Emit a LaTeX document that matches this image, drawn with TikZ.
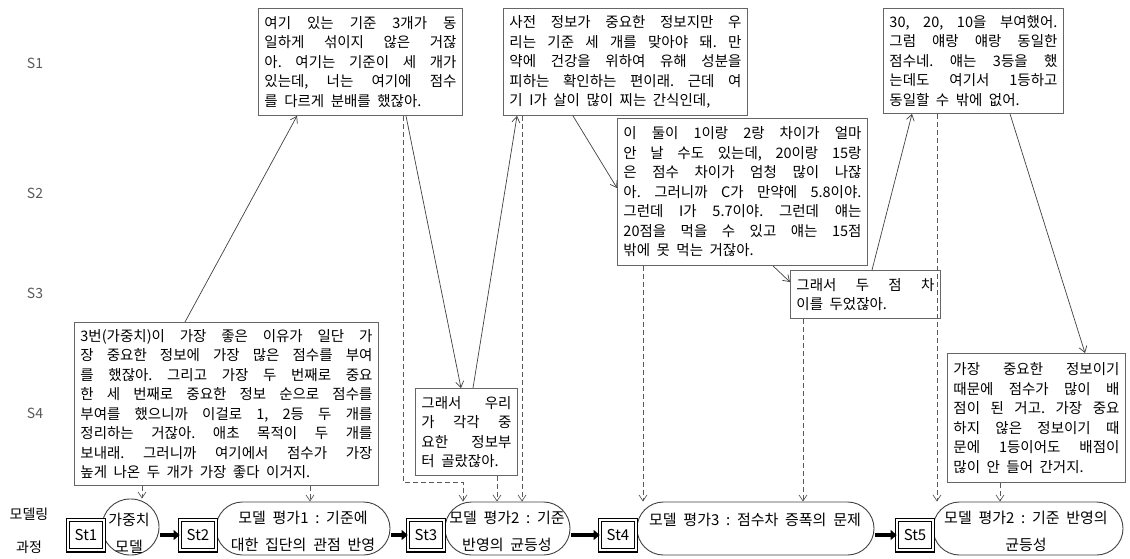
\documentclass[tikz,border=0pt]{standalone}
\usepackage{fontspec}
\setmainfont{Noto Sans CJK KR}[WordSpace=2]
\usetikzlibrary{arrows.meta}
\frenchspacing
\newcommand\jline[1]{\hbox to\hsize{#1}}
\newcommand\lline[1]{\hbox to\hsize{#1\hfil}}
\newcommand\tlines[2]{\vbox{\hsize=#1\relax #2}}
\tikzset{
 tbox/.style={draw=black!60, line width=0.9pt, anchor=north west, inner sep=0pt, fill=white, font=\fontsize{14.5}{19.5}\selectfont},
 conn/.style={draw=black!75, line width=0.7pt, -{Straight Barb[length=6pt,width=8pt]}},
 dconn/.style={conn, draw=black!65, dash pattern=on 5pt off 3pt},
 stad/.style={draw=black!75, line width=0.9pt, rounded corners=26.5pt, minimum height=53pt, inner sep=0pt},
 stbox/.style={draw=black, double, double distance=2pt, line width=1.2pt, fill=white, minimum width=35.6pt, minimum height=30.6pt, inner sep=0pt, font=\fontsize{15}{17}\selectfont},
 fat/.style={line width=4pt, -{Triangle[length=6pt,width=10pt]}, shorten <=1pt},
 lbl/.style={text=black!65, font=\fontsize{14}{16}\selectfont},
 plbl/.style={font=\fontsize{14}{16}\selectfont},
 stxt/.style={align=center, font=\fontsize{15}{27}\selectfont, inner sep=0pt},
}
\begin{document}
\begin{tikzpicture}[x=1pt,y=-1pt]
\useasboundingbox (0,0) rectangle (1130,558);

% row labels
\node[lbl] (L1) at (35,63) {S1};
\node[lbl] (L2) at (35,193) {S2};
\node[lbl] (L3) at (35,293) {S3};
\node[lbl] (L4) at (35,413) {S4};
\node[plbl] (P1) at (29,514) {모델링};
\node[plbl] (P2) at (29,547) {과정};

% text boxes
\node[tbox, minimum width=304pt, minimum height=163pt] (A) at (74,322) {\tlines{292pt}{%
\jline{3번(가중치)이 가장 좋은 이유가 일단 가}
\jline{장 중요한 정보에 가장 많은 점수를 부여}
\jline{를 했잖아. 그리고 가장 두 번째로 중요}
\jline{한 세 번째로 중요한 정보 순으로 점수를}
\jline{부여를 했으니까 이걸로 1, 2등 두 개를}
\jline{정리하는 거잖아. 애초 목적이 두 개를}
\jline{보내래. 그러니까 여기에서 점수가 가장}
\lline{높게 나온 두 개가 가장 좋다 이거지.}}};

\node[tbox, minimum width=204pt, minimum height=107pt] (B) at (258,8) {\tlines{192pt}{%
\jline{여기 있는 기준 3개가 동}
\jline{일하게 섞이지 않은 거잖}
\jline{아. 여기는 기준이 세 개가}
\jline{있는데, 너는 여기에 점수}
\lline{를 다르게 분배를 했잖아.}}};

\node[tbox, minimum width=244pt, minimum height=107pt] (C) at (503,8) {\tlines{232pt}{%
\jline{사전 정보가 중요한 정보지만 우}
\jline{리는 기준 세 개를 맞아야 돼. 만}
\jline{약에 건강을 위하여 유해 성분을}
\jline{피하는 확인하는 편이래. 근데 여}
\lline{기 I가 살이 많이 찌는 간식인데,}}};

\node[tbox, minimum width=250pt, minimum height=147pt] (D) at (617,118) {\tlines{238pt}{%
\jline{이 둘이 1이랑 2랑 차이가 얼마}
\jline{안 날 수도 있는데, 20이랑 15랑}
\jline{은 점수 차이가 엄청 많이 나잖}
\jline{아. 그러니까 C가 만약에 5.8이야.}
\jline{그런데 I가 5.7이야. 그런데 얘는}
\jline{20점을 먹을 수 있고 얘는 15점}
\lline{밖에 못 먹는 거잖아.}}};

\node[tbox, minimum width=150pt, minimum height=48pt] (E) at (790,270) {\tlines{138pt}{%
\jline{그래서 두 점 차}
\lline{이를 두었잖아.}}};

\node[tbox, minimum width=180pt, minimum height=105pt] (F) at (883,8) {\tlines{168pt}{%
\jline{30, 20, 10을 부여했어.}
\jline{그럼 얘랑 얘랑 동일한}
\jline{점수네. 얘는 3등을 했}
\jline{는데도 여기서 1등하고}
\lline{동일할 수 밖에 없어.}}};

\node[tbox, minimum width=178pt, minimum height=129pt] (G) at (947,353) {\tlines{166pt}{%
\jline{가장 중요한 정보이기}
\jline{때문에 점수가 많이 배}
\jline{점이 된 거고. 가장 중요}
\jline{하지 않은 정보이기 때}
\jline{문에 1등이어도 배점이}
\lline{많이 안 들어 간거지.}}};

\node[tbox, minimum width=102pt, minimum height=87pt] (H) at (415,388) {\tlines{90pt}{%
\jline{그래서 우리}
\jline{가 각각 중}
\jline{요한 정보부}
\lline{터 골랐잖아.}}};

% modelling process shapes
\node[stad, minimum width=57pt, minimum height=56pt, rounded corners=28pt] (M1) at (130.5,527) {};
\node[stad, minimum width=174pt] (M2) at (303,528.5) {};
\node[stad, minimum width=125pt] (M3) at (507.5,528.5) {};
\node[stad, minimum width=237pt] (M4) at (755.5,528.5) {};
\node[stad, minimum width=190pt] (M5) at (1028,528.5) {};

\node[stbox] (St1) at (86,535) {St1};
\node[stbox] (St2) at (198,535) {St2};
\node[stbox] (St3) at (426,535) {St3};
\node[stbox] (St4) at (618,535) {St4};
\node[stbox] (St5) at (915,535) {St5};

\node[stxt] (T1) at (129,533) {가중치\\모델};
\node[stxt] (T2) at (303,531) {모델 평가1 : 기준에\\대한 집단의 관점 반영};
\node[stxt] (T3) at (507,531) {모델 평가2 : 기준\\반영의 균등성};
\node[stxt] (T4) at (755,520) {모델 평가3 : 점수차 증폭의 문제};
\node[stxt] (T5) at (1026,531) {모델 평가2 : 기준 반영의\\균등성};

\draw[fat] (M1.east |- St2.west) -- (St2.west);
\draw[fat] (M2.east |- St3.west) -- (St3.west);
\draw[fat] (M3.east |- St4.west) -- (St4.west);
\draw[fat] (M4.east |- St5.west) -- (St5.west);

% solid connectors
\draw[conn] ([xshift=111pt]A.north west) -- ([xshift=39pt]B.south west);
\draw[conn] ([xshift=148pt]B.south west) -- ([xshift=46pt]H.north west);
\draw[conn] ([xshift=58pt]H.north west) -- ([xshift=14pt]C.south west);
\draw[conn] ([xshift=70pt]C.south west) -- ([yshift=-70pt]D.north west);
\draw[conn] ([xshift=156pt]D.south west) -- ([yshift=-12pt]E.north west);
\draw[conn] ([xshift=82pt]E.north west) -- ([xshift=29pt]F.south west);
\draw[conn] ([xshift=127pt]F.south west) -- ([xshift=138pt]G.north west);

% dashed connectors to the process
\coordinate (a1) at ([xshift=68pt]A.south west);
\coordinate (a2) at ([xshift=236pt]A.south west);
\coordinate (b1) at ([xshift=145pt]B.south west);
\coordinate (bend) at (463,482);
\coordinate (h1) at ([xshift=82pt]H.south west);
\coordinate (c1) at ([xshift=19pt]C.south west);
\coordinate (d1) at ([xshift=26pt]D.south west);
\coordinate (e1) at ([xshift=13pt]E.south west);
\coordinate (f1) at ([xshift=54pt]F.south west);
\coordinate (g1) at ([xshift=53pt]G.south west);

\draw[dconn] (a1) -- (a1 |- M1.north);
\draw[dconn] (a2) -- (a2 |- M2.north);
\draw[dconn] (b1) |- (bend) -- (bend |- M3.north);
\draw[dconn] (h1) -- (h1 |- M3.north);
\draw[dconn] (c1) -- (c1 |- M3.north);
\draw[dconn] (d1) -- (d1 |- M4.north);
\draw[dconn] (e1) -- (e1 |- M4.north);
\draw[dconn] (f1) -- (f1 |- M5.north);
\draw[dconn] (g1) -- (g1 |- M5.north);
\end{tikzpicture}
\end{document}
